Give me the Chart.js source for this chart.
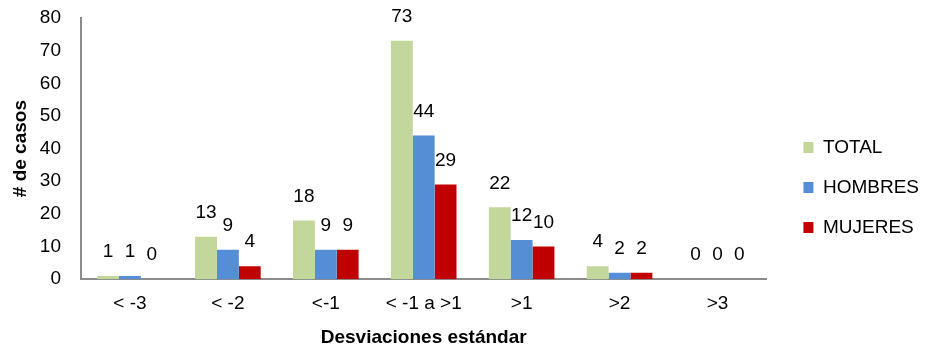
<!DOCTYPE html>
<html>
<head>
<meta charset="utf-8">
<script src="https://cdn.jsdelivr.net/npm/chart.js@4"></script>
<style>
  html, body { margin: 0; padding: 0; background: #fff; }
  #wrap { width: 932px; height: 347px; }
</style>
</head>
<body>
<div id="wrap"><canvas id="grafico"></canvas></div>
<script>
const categorias = ['< -3', '< -2', '<-1', '< -1 a >1', '>1', '>2', '>3'];
const total = [1, 13, 18, 73, 22, 4, 0];
const hombres = [1, 9, 9, 44, 12, 2, 0];
const mujeres = [0, 4, 9, 29, 10, 2, 0];

const fuente = 'Liberation Sans, Arial, sans-serif';

// etiquetas de valor encima de cada barra
const etiquetas = {
    id: 'etiquetas',
    afterDatasetsDraw(chart) {
        const ctx = chart.ctx;
        ctx.save();
        ctx.font = '19px ' + fuente;
        ctx.fillStyle = '#000';
        ctx.textAlign = 'center';
        ctx.textBaseline = 'middle';
        chart.data.datasets.forEach((ds, i) => {
            chart.getDatasetMeta(i).data.forEach((bar, j) => {
                ctx.fillText(ds.data[j], bar.x, bar.y - 24);
            });
        });
        ctx.restore();
    }
};

// colocar la leyenda un poco mas abajo y a la derecha
const moverLeyenda = {
    id: 'moverLeyenda',
    afterLayout(chart) {
        chart.legend.top += 5;
        chart.legend.bottom += 5;
        chart.legend.left += 16;
        chart.legend.right += 16;
    }
};

new Chart(document.getElementById('grafico'), {
    type: 'bar',
    data: {
        labels: categorias,
        datasets: [
            { label: 'TOTAL', data: total, backgroundColor: '#C3D69B' },
            { label: 'HOMBRES', data: hombres, backgroundColor: '#558ED5' },
            { label: 'MUJERES', data: mujeres, backgroundColor: '#C00000' }
        ]
    },
    options: {
        responsive: true,
        maintainAspectRatio: false,
        animation: false,
        categoryPercentage: 0.67,
        barPercentage: 1,
        layout: { padding: { top: 18, right: 19, left: 11, bottom: 0 } },
        plugins: {
            tooltip: { enabled: false },
            legend: {
                position: 'right',
                labels: {
                    boxWidth: 10,
                    boxHeight: 11,
                    padding: 21,
                    color: '#000',
                    font: { family: fuente, size: 19 }
                }
            }
        },
        scales: {
            x: {
                grid: { display: false, drawTicks: false },
                border: { display: true, color: '#8C8C8C', width: 2 },
                ticks: { color: '#000', padding: 13, font: { family: fuente, size: 19 } },
                title: {
                    display: true,
                    text: 'Desviaciones estándar',
                    color: '#000',
                    padding: { top: 0, bottom: 0 },
                    font: { family: fuente, size: 19, weight: 'bold', lineHeight: 1 }
                }
            },
            y: {
                min: 0,
                max: 80,
                afterFit(scale) {
                    scale.width = 70;
                    scale.paddingTop = 0;
                    scale.paddingBottom = 0;
                },
                grid: { display: false, drawTicks: false },
                border: { display: true, color: '#8C8C8C', width: 2 },
                ticks: { stepSize: 10, color: '#000', padding: 20, font: { family: fuente, size: 19 } },
                title: {
                    display: true,
                    text: '# de casos',
                    color: '#000',
                    padding: { top: 0, bottom: 0 },
                    font: { family: fuente, size: 19, weight: 'bold', lineHeight: 1 }
                }
            }
        }
    },
    plugins: [etiquetas, moverLeyenda]
});
</script>
</body>
</html>
